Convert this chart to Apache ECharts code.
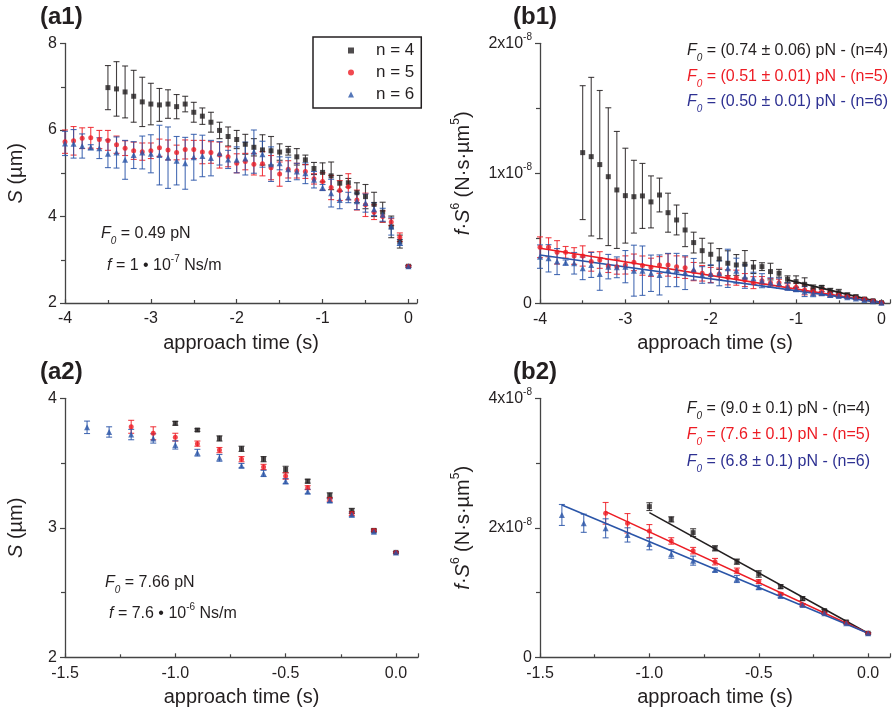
<!DOCTYPE html>
<html><head><meta charset="utf-8">
<script src="https://cdn.jsdelivr.net/npm/echarts@6/dist/echarts.min.js"></script>
<style>html,body{margin:0;padding:0;background:#fff}#c{width:893px;height:714px}</style>
</head><body><div id="c"></div>
<script>
// ---------- DATA ----------
// Panel a1 / b1 time axis (s)
const tA1 = [-4.0,-3.9,-3.8,-3.7,-3.6,-3.5,-3.4,-3.3,-3.2,-3.1,-3.0,-2.9,-2.8,-2.7,-2.6,-2.5,-2.4,-2.3,-2.2,-2.1,-2.0,-1.9,-1.8,-1.7,-1.6,-1.5,-1.4,-1.3,-1.2,-1.1,-1.0,-0.9,-0.8,-0.7,-0.6,-0.5,-0.4,-0.3,-0.2,-0.1,0.0];
// a1: S (µm)
const a1_n4 = [null,null,null,null,null,6.98,6.95,6.88,6.78,6.65,6.6,6.58,6.6,6.54,6.6,6.41,6.32,6.18,5.99,5.85,5.78,5.67,5.6,5.54,5.52,5.49,5.52,5.38,5.31,5.11,5.02,4.94,4.77,4.78,4.55,4.46,4.28,4.1,3.76,3.42,2.85];
const a1_n4_err = [null,null,null,null,null,0.51,0.63,0.6,0.6,0.57,0.48,0.38,0.33,0.28,0.18,0.23,0.19,0.23,0.19,0.22,0.21,0.23,0.2,0.35,0.33,0.19,0.1,0.19,0.11,0.14,0.22,0.32,0.18,0.1,0.23,0.28,0.28,0.23,0.25,0.15,0.02];
const a1_n5 = [5.73,5.75,5.81,5.82,5.78,5.76,5.66,5.58,5.52,5.5,5.52,5.59,5.54,5.48,5.55,5.55,5.49,5.48,5.42,5.38,5.23,5.27,5.21,5.22,5.13,4.98,5.09,5.06,5.04,4.87,4.81,4.67,4.6,4.69,4.38,4.27,4.1,4.0,3.87,3.52,2.85];
const a1_n5_err = [0.27,0.33,0.24,0.24,0.21,0.23,0.2,0.17,0.2,0.2,0.18,0.2,0.23,0.17,0.22,0.21,0.27,0.25,0.3,0.23,0.22,0.19,0.25,0.28,0.28,0.28,0.2,0.17,0.16,0.12,0.2,0.28,0.23,0.3,0.23,0.27,0.17,0.13,0.08,0.1,0.02];
const a1_n6 = [5.69,5.68,5.63,5.6,5.58,5.45,5.48,5.31,5.42,5.48,5.45,5.42,5.36,5.29,5.23,5.37,5.4,5.35,5.46,5.32,5.31,5.34,5.5,5.44,5.21,5.23,5.09,5.04,5.0,4.85,4.67,4.54,4.38,4.44,4.35,4.31,4.17,4.04,3.77,3.4,2.85];
const a1_n6_err = [0.28,0.33,0.28,0.06,0.24,0.32,0.36,0.45,0.31,0.38,0.44,0.69,0.71,0.56,0.6,0.53,0.48,0.41,0.27,0.21,0.3,0.38,0.5,0.3,0.4,0.15,0.28,0.19,0.24,0.19,0.07,0.32,0.2,0.12,0.19,0.21,0.15,0.15,0.2,0.07,0.02];
// b1: f·S^6 in units of 1e-9 N·s·µm^5
const b1_n4 = [null,null,null,null,null,11.59,11.28,10.67,9.74,8.72,8.28,8.2,8.26,7.8,8.33,6.97,6.41,5.64,4.67,4.05,3.77,3.41,3.08,2.95,3.0,2.79,2.82,2.44,2.31,1.85,1.67,1.46,1.15,1.23,0.97,0.82,0.64,0.51,0.33,0.2,0.05];
const b1_n4_err = [null,null,null,null,null,5.15,6.1,5.7,5.3,4.5,3.65,2.8,2.5,2.0,1.3,1.5,1.15,1.28,0.8,0.95,0.86,0.8,0.96,0.8,1.06,0.5,0.3,0.64,0.3,0.26,0.44,0.5,0.26,0.13,0.18,0.25,0.15,0.12,0.1,0.08,0.03];
const b1_n5 = [4.31,4.31,3.92,3.92,3.64,3.64,3.21,3.33,2.87,2.82,2.95,3.15,2.9,2.77,2.95,2.95,2.82,2.74,2.44,2.31,2.18,2.26,2.0,1.97,1.79,1.59,1.74,1.59,1.59,1.28,1.23,1.03,0.9,0.9,0.72,0.62,0.51,0.41,0.31,0.18,0.05];
const b1_n5_err = [0.8,0.73,0.9,0.45,0.64,0.78,0.74,0.64,0.5,0.58,0.7,0.64,0.74,0.7,0.64,0.86,0.83,0.83,0.7,0.6,0.58,0.45,0.58,0.58,0.5,0.46,0.32,0.32,0.26,0.23,0.32,0.38,0.26,0.3,0.2,0.17,0.12,0.1,0.08,0.06,0.03];
const b1_n6 = [3.59,3.46,3.21,3.13,3.08,2.69,2.95,2.26,2.82,2.77,2.82,2.51,2.51,2.31,2.18,2.56,2.56,2.36,2.62,2.18,2.26,2.31,2.69,2.51,2.05,1.92,1.74,1.59,1.54,1.28,1.08,0.9,0.77,0.77,0.64,0.56,0.46,0.36,0.26,0.15,0.05];
const b1_n6_err = [0.9,1.05,1.0,0.2,0.83,0.87,0.96,1.26,0.94,0.8,1.24,1.96,1.9,1.4,1.54,1.28,1.28,1.3,0.83,0.64,0.7,0.96,1.47,0.96,0.9,0.47,0.54,0.37,0.4,0.28,0.15,0.38,0.26,0.14,0.18,0.12,0.1,0.08,0.06,0.05,0.03];
// b1 linear fits (t, value) endpoints
const b1_fit_n4 = [[-1.1,1.8],[0.0,0.05]];
const b1_fit_n5 = [[-4.0,4.23],[0.0,0.05]];
const b1_fit_n6 = [[-4.0,3.72],[0.0,0.05]];

// Panel a2 / b2 time axis (s)
const tA2 = [-1.4,-1.3,-1.2,-1.1,-1.0,-0.9,-0.8,-0.7,-0.6,-0.5,-0.4,-0.3,-0.2,-0.1,0.0];
const a2_n4 = [null,null,null,null,3.807,3.755,3.69,3.61,3.53,3.45,3.36,3.25,3.13,2.98,2.81];
const a2_n4_err = [null,null,null,null,0.015,0.01,0.02,0.02,0.02,0.025,0.015,0.02,0.02,0.01,0.005];
const a2_n5 = [null,null,3.78,3.73,3.70,3.65,3.60,3.53,3.47,3.40,3.31,3.22,3.11,2.98,2.81];
const a2_n5_err = [null,null,0.05,0.05,0.03,0.02,0.02,0.02,0.02,0.025,0.015,0.015,0.015,0.01,0.005];
const a2_n6 = [3.776,3.74,3.72,3.69,3.64,3.58,3.54,3.48,3.42,3.36,3.28,3.21,3.10,2.97,2.81];
const a2_n6_err = [0.048,0.04,0.04,0.036,0.032,0.026,0.026,0.017,0.024,0.02,0.018,0.015,0.015,0.01,0.005];
// b2 in units of 1e-9
const b2_n4 = [null,null,null,null,23.27,21.3,19.25,16.83,14.77,12.87,10.91,9.06,7.21,5.46,3.71];
const b2_n4_err = [null,null,null,null,0.6,0.4,0.6,0.4,0.4,0.5,0.3,0.3,0.2,0.15,0.1];
const b2_n5 = [null,null,22.24,20.7,19.5,17.97,16.47,14.77,13.38,11.69,9.78,8.08,6.8,5.25,3.71];
const b2_n5_err = [null,null,1.67,1.5,1.0,0.5,0.5,0.5,0.4,0.3,0.2,0.2,0.15,0.1,0.1];
const b2_n6 = [21.98,20.7,19.92,18.9,17.5,15.96,14.93,13.49,12.1,10.81,9.47,8.08,6.8,5.25,3.71];
const b2_n6_err = [1.62,1.4,1.47,1.1,0.9,0.65,0.7,0.3,0.55,0.3,0.25,0.2,0.15,0.1,0.1];
const b2_fit_n4 = [[-1.0,22.34],[0.0,3.71]];
const b2_fit_n5 = [[-1.2,22.5],[0.0,3.71]];
const b2_fit_n6 = [[-1.4,23.53],[0.0,3.71]];

const seriesNames = ['n = 4','n = 5','n = 6'];
const fitLabelsB1 = ['(0.74 ± 0.06) pN - (n=4)','(0.51 ± 0.01) pN - (n=5)','(0.50 ± 0.01) pN - (n=6)'];
const fitLabelsB2 = ['(9.0 ± 0.1) pN - (n=4)','(7.6 ± 0.1) pN - (n=5)','(6.8 ± 0.1) pN - (n=6)'];

// ---------- STYLE ----------
const FONT = 'Liberation Sans';
const INK = '#231f20';
const COLORS = ['#231f20','#ed1c24','#2a55a8'];
const TEXTCOL = ['#231f20','#ed1c24','#2e3192'];
const SYMBOLS = ['rect','circle','triangle'];
const SIZES = [5,5,6];

const mk = (t,v) => t.map((x,i)=> v[i]==null?null:[x,v[i]]).filter(Boolean);
const mkErr = (t,v,e) => t.map((x,i)=> v[i]==null?null:[x,v[i]-e[i],v[i]+e[i]]).filter(Boolean);

function errRender(color){
  return function(params, api){
    const x = api.value(0);
    const lo = api.coord([x, api.value(1)]);
    const hi = api.coord([x, api.value(2)]);
    const w = 3;
    const st = {stroke: color, lineWidth: 1.1, opacity: 0.85};
    return {type:'group', children:[
      {type:'line', shape:{x1:lo[0],y1:lo[1],x2:hi[0],y2:hi[1]}, style:st},
      {type:'line', shape:{x1:hi[0]-w,y1:hi[1],x2:hi[0]+w,y2:hi[1]}, style:st},
      {type:'line', shape:{x1:lo[0]-w,y1:lo[1],x2:lo[0]+w,y2:lo[1]}, style:st}
    ]};
  };
}

const supRich = {
  sup:{fontSize:10, verticalAlign:'top', lineHeight:22, fontFamily:FONT, color:INK},
  base:{fontSize:16, lineHeight:22, fontFamily:FONT, color:INK}
};

function xAx(gi, min, max, interval, dec){
  return {type:'value', gridIndex:gi, min, max, interval,
    axisLine:{show:true, onZero:false, lineStyle:{color:'#444', width:1.3}},
    axisTick:{show:true, inside:true, length:4, lineStyle:{color:'#444', width:1.2}},
    minorTick:{show:true, splitNumber:2, length:3, lineStyle:{color:'#444', width:1.2}},
    splitLine:{show:false},
    axisLabel:{fontSize:16, color:INK, margin:8, fontFamily:FONT,
      formatter: v => Math.abs(v/interval - Math.round(v/interval))>1e-6 ? '' : (dec? v.toFixed(dec) : String(Math.round(v)))},
    name:'approach time (s)', nameLocation:'middle', nameGap:30,
    nameTextStyle:{fontSize:20, color:INK, fontFamily:FONT}};
}
function yAx(gi, min, max, interval, name, nameGap, sci){
  const o = {type:'value', gridIndex:gi, min, max, interval,
    axisLine:{show:true, onZero:false, lineStyle:{color:'#444', width:1.3}},
    axisTick:{show:true, inside:false, length:5, lineStyle:{color:'#444', width:1.2}},
    minorTick:{show:true, splitNumber:2, length:4, lineStyle:{color:'#444', width:1.2}},
    splitLine:{show:false},
    axisLabel:{fontSize:16, color:INK, margin:8, fontFamily:FONT},
    name, nameLocation:'middle', nameGap, nameRotate:90,
    nameTextStyle:{fontSize:20, color:INK, fontFamily:FONT, rich:{
      i:{fontStyle:'italic', fontSize:20, lineHeight:26, fontFamily:FONT, color:INK},
      n:{fontSize:20, lineHeight:26, fontFamily:FONT, color:INK},
      sup:{fontSize:12, verticalAlign:'top', lineHeight:26, fontFamily:FONT, color:INK}}}};
  if (sci){
    o.axisLabel.formatter = v => v===0 ? '{base|0}' : '{base|' + (v/10) + 'x10}{sup|-8}';
    o.axisLabel.rich = supRich;
  }
  return o;
}

const grids = [
  {left:65, top:43.5, right:476, bottom:411},
  {left:540, top:43.3, right:1.5, bottom:410.7},
  {left:65, top:398.3, right:475, bottom:56.7},
  {left:540, top:398.3, right:0.5, bottom:56.7}
];

const series = [];
function addSet(gi, t, vals, errs, fits){
  for (let k=0;k<3;k++){
    series.push({type:'custom', name:'err'+gi+k, xAxisIndex:gi, yAxisIndex:gi, z:2,
      renderItem: errRender(COLORS[k]), encode:{x:0, y:[1,2]}, data: mkErr(t, vals[k], errs[k]), silent:true});
  }
  if (fits){
    for (let k=0;k<3;k++){
      series.push({type:'line', name:'fit'+gi+k, xAxisIndex:gi, yAxisIndex:gi, z:3, showSymbol:false, symbol:'none',
        lineStyle:{color:COLORS[k], width:1.6}, data: fits[k], silent:true, animation:false});
    }
  }
  for (let k=0;k<3;k++){
    series.push({type:'scatter', name:seriesNames[k], xAxisIndex:gi, yAxisIndex:gi, z:4,
      symbol:SYMBOLS[k], symbolSize:SIZES[k], itemStyle:{color:COLORS[k]}, data: mk(t, vals[k])});
  }
}
addSet(0, tA1, [a1_n4,a1_n5,a1_n6], [a1_n4_err,a1_n5_err,a1_n6_err], null);
addSet(1, tA1, [b1_n4,b1_n5,b1_n6], [b1_n4_err,b1_n5_err,b1_n6_err], [b1_fit_n4,b1_fit_n5,b1_fit_n6]);
addSet(2, tA2, [a2_n4,a2_n5,a2_n6], [a2_n4_err,a2_n5_err,a2_n6_err], null);
addSet(3, tA2, [b2_n4,b2_n5,b2_n6], [b2_n4_err,b2_n5_err,b2_n6_err], [b2_fit_n4,b2_fit_n5,b2_fit_n6]);

const richAnno = {
  i:{fontStyle:'italic', fontSize:16, lineHeight:24, fontFamily:FONT},
  n:{fontSize:16, lineHeight:24, fontFamily:FONT},
  sub:{fontStyle:'italic', fontSize:10, lineHeight:24, verticalAlign:'bottom', fontFamily:FONT},
  sup:{fontSize:10, lineHeight:24, verticalAlign:'top', fontFamily:FONT}
};
function anno(left, top, text, fill, right){
  const rich = {};
  for (const k in richAnno) rich[k] = Object.assign({}, richAnno[k], {fill: fill});
  const o = {type:'text', top, z:10, style:{text, rich, fill, font:'16px "'+FONT+'"'}};
  if (right!=null) o.right = right; else o.left = left;
  return o;
}
const graphics = [
  {type:'text', left:40, top:5, style:{text:'(a1)', font:'bold 24px "'+FONT+'"', fill:INK}},
  {type:'text', left:513, top:5, style:{text:'(b1)', font:'bold 24px "'+FONT+'"', fill:INK}},
  {type:'text', left:40, top:360, style:{text:'(a2)', font:'bold 24px "'+FONT+'"', fill:INK}},
  {type:'text', left:513, top:360, style:{text:'(b2)', font:'bold 24px "'+FONT+'"', fill:INK}},
  anno(101, 226, '{i|F}{sub|0}{n| = 0.49 pN}', INK),
  anno(107, 254, '{i|f}{n| = 1 • 10}{sup|-7}{n| Ns/m}', INK),
  anno(105, 575, '{i|F}{sub|0}{n| = 7.66 pN}', INK),
  anno(109, 602, '{i|f}{n| = 7.6 • 10}{sup|-6}{n| Ns/m}', INK)
];
[43,69,94].forEach((y,k)=> graphics.push(anno(null, y, '{i|F}{sub|0}{n| = '+fitLabelsB1[k]+'}', TEXTCOL[k], 5)));
[401,427,454].forEach((y,k)=> graphics.push(anno(null, y, '{i|F}{sub|0}{n| = '+fitLabelsB2[k]+'}', TEXTCOL[k], 23)));

const option = {
  animation:false,
  textStyle:{fontFamily:FONT},
  grid: grids,
  xAxis: [xAx(0,-4,0.1,1,0), xAx(1,-4,0.1,1,0), xAx(2,-1.5,0.1,0.5,1), xAx(3,-1.5,0.1,0.5,1)],
  yAxis: [
    yAx(0,2,8,2,'{i|S}{n| (µm)}',36,false),
    yAx(1,0,20,10,'{i|f}{n|·}{i|S}{sup|6}{n| (N·s·µm}{sup|5}{n|)}',64,true),
    yAx(2,2,4,1,'{i|S}{n| (µm)}',36,false),
    yAx(3,0,40,20,'{i|f}{n|·}{i|S}{sup|6}{n| (N·s·µm}{sup|5}{n|)}',64,true)
  ],
  legend:{left:313, top:37, orient:'vertical', borderColor:INK, borderWidth:1.5, borderRadius:0,
    padding:[5,7,5,35], itemGap:5, itemWidth:6, itemHeight:6,
    textStyle:{fontSize:17, color:INK, fontFamily:FONT, padding:[0,0,0,17]},
    data:[{name:'n = 4', icon:'rect'},{name:'n = 5', icon:'circle'},{name:'n = 6', icon:'triangle'}]},
  graphic: graphics,
  series
};
const chart = echarts.init(document.getElementById('c'), null, {renderer:'canvas'});
chart.setOption(option);
</script></body></html>
